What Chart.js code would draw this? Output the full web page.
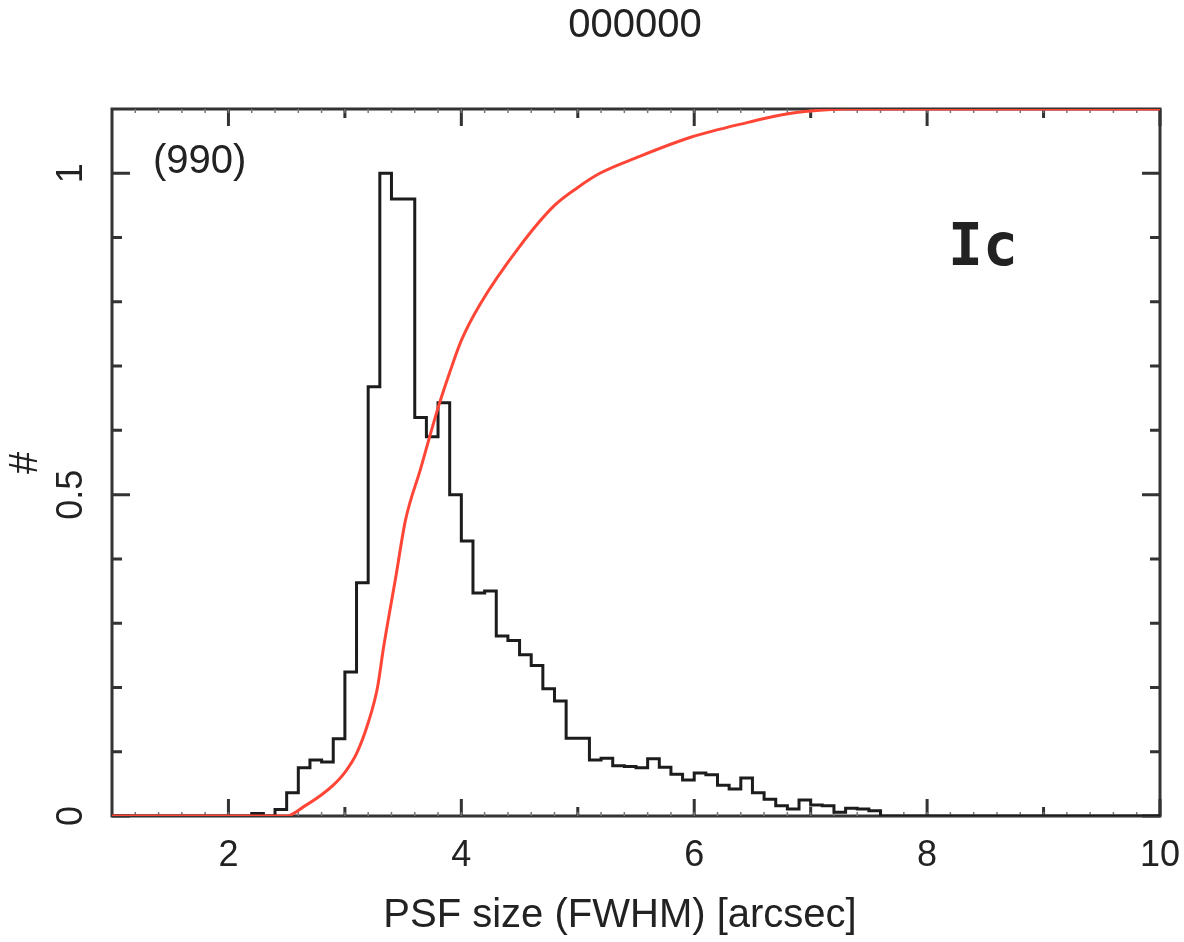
<!DOCTYPE html>
<html>
<head>
<meta charset="utf-8">
<script src="https://cdn.jsdelivr.net/npm/chart.js@4.4.0/dist/chart.umd.min.js"></script>
<style>
  body { margin: 0; background: #fff; }
  #wrap { width: 1184px; height: 942px; }
</style>
</head>
<body>
<div id="wrap"><canvas id="c"></canvas></div>
<script>
// histogram: left edge of each 0.1" bin and its normalised height
const binLeft = [2.2, 2.3, 2.4, 2.5, 2.6, 2.7, 2.8, 2.9, 3.0, 3.1,
                 3.2, 3.3, 3.4, 3.5, 3.6, 3.7, 3.8, 3.9, 4.0, 4.1,
                 4.2, 4.3, 4.4, 4.5, 4.6, 4.7, 4.8, 4.9, 5.0, 5.1,
                 5.2, 5.3, 5.4, 5.5, 5.6, 5.7, 5.8, 5.9, 6.0, 6.1,
                 6.2, 6.3, 6.4, 6.5, 6.6, 6.7, 6.8, 6.9, 7.0, 7.1,
                 7.2, 7.3, 7.4, 7.5];
const binValue = [0.004, 0, 0.01, 0.036, 0.075, 0.087, 0.084, 0.12, 0.224, 0.363,
                  0.668, 1.0, 0.96, 0.96, 0.62, 0.59, 0.643, 0.5, 0.428, 0.347,
                  0.35, 0.28, 0.273, 0.251, 0.234, 0.198, 0.179, 0.121, 0.121, 0.087,
                  0.09, 0.078, 0.077, 0.075, 0.089, 0.076, 0.065, 0.056, 0.067, 0.064,
                  0.048, 0.042, 0.059, 0.036, 0.026, 0.016, 0.011, 0.025, 0.017, 0.016,
                  0.006, 0.012, 0.011, 0.008];
const binEnd = 7.6;

// cumulative curve (red)
const cumX = [1.0, 2.5, 2.65, 2.8, 2.9, 3.0, 3.1, 3.2, 3.28, 3.33, 3.44, 3.52,
              3.65, 3.8, 3.9, 4.0, 4.16, 4.5, 4.8, 5.0, 5.19, 5.5, 5.97, 6.48, 6.7,
              6.95, 7.3, 10.0];
const cumY = [0, 0, 0.015, 0.033, 0.048, 0.068, 0.097, 0.145, 0.2, 0.26, 0.375, 0.46,
              0.54, 0.635, 0.69, 0.74, 0.796, 0.886, 0.95, 0.978, 1.0, 1.024, 1.056, 1.08, 1.089,
              1.096, 1.1, 1.1];

const xMajor = [2, 4, 6, 8, 10];
const xMinor = [3, 5, 7, 9];
const yMajor = [0, 0.5, 1];
const yMajorLabels = ['0', '0.5', '1'];
const yMinor = [0.1, 0.2, 0.3, 0.4, 0.6, 0.7, 0.8, 0.9];

const histPoints = [{x: 1, y: 0}];
binLeft.forEach((x, i) => histPoints.push({x: x, y: binValue[i]}));
histPoints.push({x: binEnd, y: 0}, {x: 10, y: 0});

const cumPoints = cumX.map((x, i) => ({x: x, y: cumY[i]}));

const ink = '#222';
const font = '"Liberation Sans", Arial, sans-serif';

// frame, inward ticks and all the text
const framePlugin = {
    id: 'frame',
    beforeDatasetsDraw(chart) {
        const {ctx, chartArea: a, scales: {x, y}} = chart;
        ctx.save();
        ctx.strokeStyle = '#333';
        ctx.lineWidth = 3;
        ctx.strokeRect(a.left, a.top, a.right - a.left, a.bottom - a.top);

        ctx.beginPath();
        xMajor.forEach(v => {
            const px = x.getPixelForValue(v);
            ctx.moveTo(px, a.bottom); ctx.lineTo(px, a.bottom - 17);
            ctx.moveTo(px, a.top); ctx.lineTo(px, a.top + 17);
        });
        xMinor.forEach(v => {
            const px = x.getPixelForValue(v);
            ctx.moveTo(px, a.bottom); ctx.lineTo(px, a.bottom - 9);
            ctx.moveTo(px, a.top); ctx.lineTo(px, a.top + 9);
        });
        yMajor.forEach(v => {
            const py = y.getPixelForValue(v);
            ctx.moveTo(a.left, py); ctx.lineTo(a.left + 18, py);
            ctx.moveTo(a.right, py); ctx.lineTo(a.right - 18, py);
        });
        yMinor.forEach(v => {
            const py = y.getPixelForValue(v);
            ctx.moveTo(a.left, py); ctx.lineTo(a.left + 10, py);
            ctx.moveTo(a.right, py); ctx.lineTo(a.right - 10, py);
        });
        ctx.stroke();

        // tiny ticks every 0.2
        ctx.lineWidth = 1.5;
        ctx.strokeStyle = '#777';
        ctx.beginPath();
        for (let k = 6; k < 50; k++) {
            const px = x.getPixelForValue(k / 5);
            ctx.moveTo(px, a.bottom); ctx.lineTo(px, a.bottom - 4);
            ctx.moveTo(px, a.top); ctx.lineTo(px, a.top + 4);
        }
        ctx.stroke();
        ctx.restore();
    },
    afterDraw(chart) {
        const {ctx, chartArea: a, scales: {x, y}} = chart;
        ctx.save();
        ctx.fillStyle = ink;
        ctx.textAlign = 'center';
        ctx.textBaseline = 'middle';

        ctx.font = '36px ' + font;
        xMajor.forEach(v => ctx.fillText(String(v), x.getPixelForValue(v), a.bottom + 40));
        yMajor.forEach((v, i) => {
            ctx.save();
            ctx.translate(a.left - 40, y.getPixelForValue(v));
            ctx.rotate(-Math.PI / 2);
            ctx.fillText(yMajorLabels[i], 0, 0);
            ctx.restore();
        });

        ctx.font = '40px ' + font;
        ctx.fillText('000000', 635, 26);
        ctx.fillText('PSF size (FWHM) [arcsec]', 620, 916);

        ctx.save();
        ctx.translate(26, 463);
        ctx.rotate(-Math.PI / 2);
        ctx.fillText('#', 0, 0);
        ctx.restore();

        ctx.textAlign = 'left';
        ctx.font = '40px ' + font;
        ctx.fillText('(990)', 153, 162);

        ctx.font = 'bold 58px "DejaVu Sans Mono", monospace';
        ctx.textBaseline = 'alphabetic';
        ctx.fillText('Ic', 948, 265);
        ctx.restore();
    }
};

new Chart(document.getElementById('c'), {
    type: 'line',
    data: {
        datasets: [{
            data: cumPoints,
            borderColor: '#ff4636',
            borderWidth: 3,
            pointRadius: 0,
            cubicInterpolationMode: 'monotone'
        }, {
            data: histPoints,
            stepped: 'before',
            borderColor: '#1c1c1c',
            borderWidth: 3,
            pointRadius: 0
        }]
    },
    options: {
        responsive: true,
        maintainAspectRatio: false,
        animation: false,
        layout: { padding: { top: 109, right: 24, left: 0, bottom: 0 } },
        plugins: {
            legend: { display: false },
            tooltip: { enabled: false }
        },
        scales: {
            x: {
                type: 'linear', min: 1, max: 10,
                ticks: { display: false },
                grid: { display: false },
                border: { display: false },
                afterFit: s => { s.height = 126; }
            },
            y: {
                type: 'linear', min: 0, max: 1.1,
                ticks: { display: false },
                grid: { display: false },
                border: { display: false },
                afterFit: s => { s.width = 112; }
            }
        }
    },
    plugins: [framePlugin]
});
</script>
</body>
</html>
